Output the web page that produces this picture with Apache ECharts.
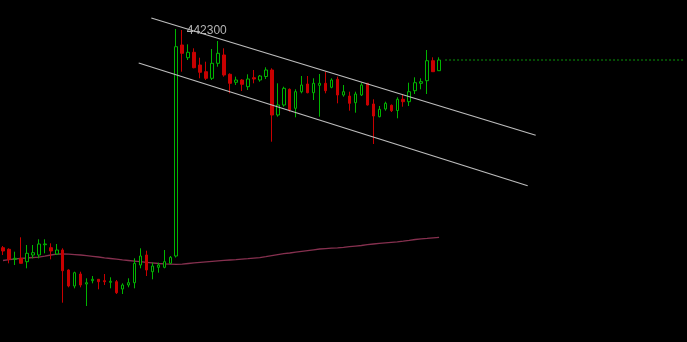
<!DOCTYPE html>
<html>
<head>
<meta charset="utf-8">
<script src="https://cdn.jsdelivr.net/npm/echarts@6/dist/echarts.min.js"></script>
<style>html,body{margin:0;padding:0;background:#000;}#c{width:687px;height:342px;}</style>
</head>
<body>
<div id="c"></div>
<script>
// Category slots (74 candles + empty space to the right)
const categories = Array.from({length: 115}, (_, i) => 'P' + (i + 1));

// OHLC as [open, close, low, high]
const candles = [
  [420430,420100,419700,420600],
  [420270,419270,418870,420370],
  [419270,419370,418700,420030],
  [419370,418870,418850,421470],
  [419030,419870,418370,420700],
  [419700,419930,419370,420700],
  [419700,420800,419370,421270],
  [420730,420800,419870,421270],
  [420430,420100,419270,420870],
  [419800,420200,419700,420800],
  [420200,418130,414930,420370],
  [418200,416600,416470,418270],
  [416600,417930,416370,418030],
  [417800,416700,416470,418030],
  [416800,416930,414600,417370],
  [417130,417270,416870,417600],
  [417270,417030,416270,417300],
  [417130,417030,416700,417800],
  [416970,417070,416370,417470],
  [417030,415930,415800,417200],
  [416300,416700,415800,416870],
  [416700,416930,416470,417370],
  [416930,418870,416370,419370],
  [418700,419600,418370,420370],
  [419700,418200,417600,420130],
  [418030,418600,417270,418930],
  [418470,418700,417930,418930],
  [418470,419030,418370,420200],
  [418870,419470,418800,419600],
  [419600,440530,419450,442300],
  [440700,439870,438030,442200],
  [439430,439970,439200,440770],
  [439970,438430,438370,440370],
  [438700,437970,437370,439430],
  [438030,437370,437200,439030],
  [437370,438870,437200,440300],
  [438870,439870,438530,441100],
  [439700,437700,437530,440370],
  [437770,436870,435870,437870],
  [436970,437200,436700,437530],
  [437200,436770,436100,437300],
  [436530,437300,436200,437770],
  [437430,437300,436870,438200],
  [437200,437600,437030,437700],
  [437550,438200,437300,438470],
  [438200,433700,431030,438370],
  [433700,434700,433530,436870],
  [434700,436370,434530,436530],
  [436270,434200,434030,436350],
  [434370,436030,433470,436270],
  [436030,436700,435870,437600],
  [436800,435930,435870,437600],
  [435930,436870,435200,437370],
  [436670,436870,433530,437800],
  [436870,436130,435870,438030],
  [436470,437200,436370,437370],
  [437270,435700,434870,437530],
  [435700,436030,435530,436700],
  [435600,434870,434130,436030],
  [434930,435800,433930,436030],
  [435700,436700,435600,436930],
  [436870,434700,434650,436900],
  [434800,433600,430800,435270],
  [433530,434270,433470,434600],
  [434300,434870,434130,435030],
  [434670,434130,434000,434750],
  [434150,435270,433370,435470],
  [435270,435030,434530,435800],
  [435030,436030,434600,436930],
  [436130,436930,435800,437470],
  [436870,437030,436270,437370],
  [437130,439130,435800,440200],
  [439130,438030,438000,439470],
  [438130,439200,438110,439470]
];

// Moving average line
const maValues = [
  419150,419230,419300,419370,419400,419450,419490,419580,419700,419780,
  419820,419780,419740,419700,419640,419570,419500,419420,419350,419280,
  419210,419150,419090,419030,418970,418910,418850,418810,418790,418770,
  418790,418850,418910,418970,419020,419070,419120,419160,419200,419240,
  419290,419330,419380,419430,419530,419640,419740,419840,419900,419980,
  420060,420140,420220,420300,420340,420380,420420,420470,420530,420590,
  420650,420730,420800,420870,420920,420970,421020,421080,421160,421250,
  421310,421360,421420,421470
];

// Channel trend lines: [slot position, price]
const upperChannel = [[24.83, 443400], [89.17, 431670]];
const lowerChannel = [[22.72, 438900], [87.83, 426630]];

const lastClose = candles[candles.length - 1][1];
const lastLine = categories.map((_, i) => i >= candles.length ? lastClose : null);

const chart = echarts.init(document.getElementById('c'), null, {renderer: 'canvas'});
chart.setOption({
  animation: false,
  backgroundColor: '#000000',
  grid: {left: -1, top: 0, width: 692, height: 342, containLabel: false},
  xAxis: [
    {type: 'category', data: categories, show: false, boundaryGap: true},
    {type: 'value', min: -0.5, max: 114.5, show: false}
  ],
  yAxis: {type: 'value', min: 411000, max: 445200, show: false, scale: true},
  series: [
    {
      type: 'line', data: maValues, showSymbol: false, symbol: 'none',
      lineStyle: {color: '#86304f', width: 1.3}, z: 1
    },
    {
      type: 'candlestick', data: candles, barWidth: 3, z: 2,
      itemStyle: {
        color: '#000000', color0: '#c80000',
        borderColor: '#00b400', borderColor0: '#c80000', borderWidth: 1
      },
      markPoint: {
        symbol: 'circle', symbolSize: 1,
        itemStyle: {color: 'rgba(0,0,0,0)'},
        data: [{type: 'max', valueDim: 'highest'}],
        label: {
          show: true, position: 'right', distance: 10, offset: [0, 2],
          color: '#b4b4b4', fontSize: 12, fontFamily: 'Liberation Sans',
          formatter: p => String(p.value)
        }
      }
    },
    {
      type: 'line', data: lastLine, showSymbol: false, symbol: 'none',
      lineStyle: {color: '#0a9a0a', width: 1, type: [2, 2]}, z: 2
    },
    {
      type: 'line', xAxisIndex: 1, data: upperChannel, showSymbol: false, symbol: 'none',
      lineStyle: {color: '#bdbdbd', width: 1.2}, z: 3
    },
    {
      type: 'line', xAxisIndex: 1, data: lowerChannel, showSymbol: false, symbol: 'none',
      lineStyle: {color: '#bdbdbd', width: 1.2}, z: 3
    }
  ]
});
</script>
</body>
</html>
